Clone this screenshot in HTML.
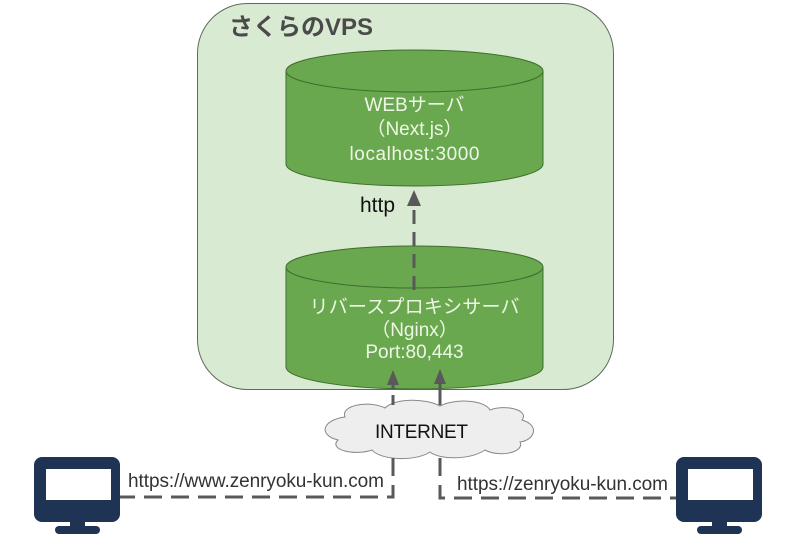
<!DOCTYPE html>
<html><head><meta charset="utf-8"><style>
html,body{margin:0;padding:0;background:#fff}
svg{display:block}
text{font-family:"Liberation Sans","Noto Sans CJK JP",sans-serif}
</style></head><body>
<svg width="792" height="537" viewBox="0 0 792 537" xmlns="http://www.w3.org/2000/svg">
<rect x="197.5" y="3.5" width="416" height="386" rx="50" ry="50" fill="#d9ead3" stroke="#5f6b5a" stroke-width="1"/>
<text x="229" y="35" font-size="24" font-weight="bold" fill="#4a4a4a" textLength="144">さくらのVPS</text>

<!-- top cylinder -->
<path d="M286,71 L286,164 A128.5,22 0 0 0 543,164 L543,71 Z" fill="#6aa84f" stroke="#3f6e2c" stroke-width="1"/>
<ellipse cx="414.5" cy="71" rx="128.5" ry="21" fill="#6aa84f" stroke="#3f6e2c" stroke-width="1"/>
<text x="414.5" y="111" font-size="19" fill="#eef7e6" text-anchor="middle">WEBサーバ</text>
<text x="414.5" y="135" font-size="19" fill="#eef7e6" text-anchor="middle">（Next.js）</text>
<text x="414.5" y="160" font-size="19" fill="#eef7e6" text-anchor="middle" textLength="130">localhost:3000</text>

<!-- bottom cylinder -->
<path d="M286,267 L286,367 A128.5,22 0 0 0 543,367 L543,267 Z" fill="#6aa84f" stroke="#3f6e2c" stroke-width="1"/>
<ellipse cx="414.5" cy="267" rx="128.5" ry="21" fill="#6aa84f" stroke="#3f6e2c" stroke-width="1"/>
<text x="414.5" y="313" font-size="19" fill="#eef7e6" text-anchor="middle" textLength="210">リバースプロキシサーバ</text>
<text x="414.5" y="336" font-size="19" fill="#eef7e6" text-anchor="middle">（Nginx）</text>
<text x="414.5" y="358" font-size="19" fill="#eef7e6" text-anchor="middle">Port:80,443</text>

<!-- http arrow -->
<line x1="414" y1="290" x2="414" y2="204" stroke="#595959" stroke-width="3" stroke-dasharray="14,8"/>
<path d="M407,206 L414,190 L421,206 Z" fill="#595959"/>
<text x="360" y="212" font-size="21" fill="#111">http</text>

<!-- cloud -->
<path d="M345,417 C340,405 370,400 385,408 C395,398 425,398 440,406 C455,398 485,400 490,410 C505,404 530,410 522,420 C540,425 535,440 520,442 C525,452 500,458 485,450 C470,460 440,460 430,452 C415,462 380,460 372,450 C355,456 328,450 338,440 C318,435 322,420 345,417 Z" fill="#eeeeee" stroke="#888" stroke-width="1"/>
<text x="421.5" y="438" font-size="19" fill="#111" text-anchor="middle" textLength="93">INTERNET</text>

<!-- arrows into nginx -->
<line x1="393" y1="405" x2="393" y2="384" stroke="#595959" stroke-width="3" stroke-dasharray="10,6"/>
<path d="M387,385 L393,370 L399,385 Z" fill="#595959"/>
<line x1="440" y1="405" x2="440" y2="384" stroke="#595959" stroke-width="3"/>
<path d="M434,384 L440,369 L446,384 Z" fill="#595959"/>

<!-- lower connectors -->
<polyline points="393,458 393,497 120,497" fill="none" stroke="#595959" stroke-width="3" stroke-dasharray="18,9"/>
<polyline points="440,458 440,498 676,498" fill="none" stroke="#595959" stroke-width="3" stroke-dasharray="18,9"/>
<text x="128" y="487" font-size="19" fill="#333" textLength="256">https://www.zenryoku-kun.com</text>
<text x="457" y="490" font-size="19" fill="#333" textLength="211">https://zenryoku-kun.com</text>

<!-- monitors -->
<g fill="#1f3354">
<rect x="34" y="457" width="86" height="65" rx="8"/>
<rect x="70" y="520" width="15" height="9"/>
<rect x="55" y="526" width="45" height="8" rx="4"/>
<rect x="676" y="457" width="86" height="65" rx="8"/>
<rect x="712" y="520" width="15" height="9"/>
<rect x="697" y="526" width="45" height="8" rx="4"/>
</g>
<rect x="46" y="469" width="65" height="31" fill="#fff"/>
<rect x="688" y="469" width="65" height="31" fill="#fff"/>
</svg>
</body></html>
